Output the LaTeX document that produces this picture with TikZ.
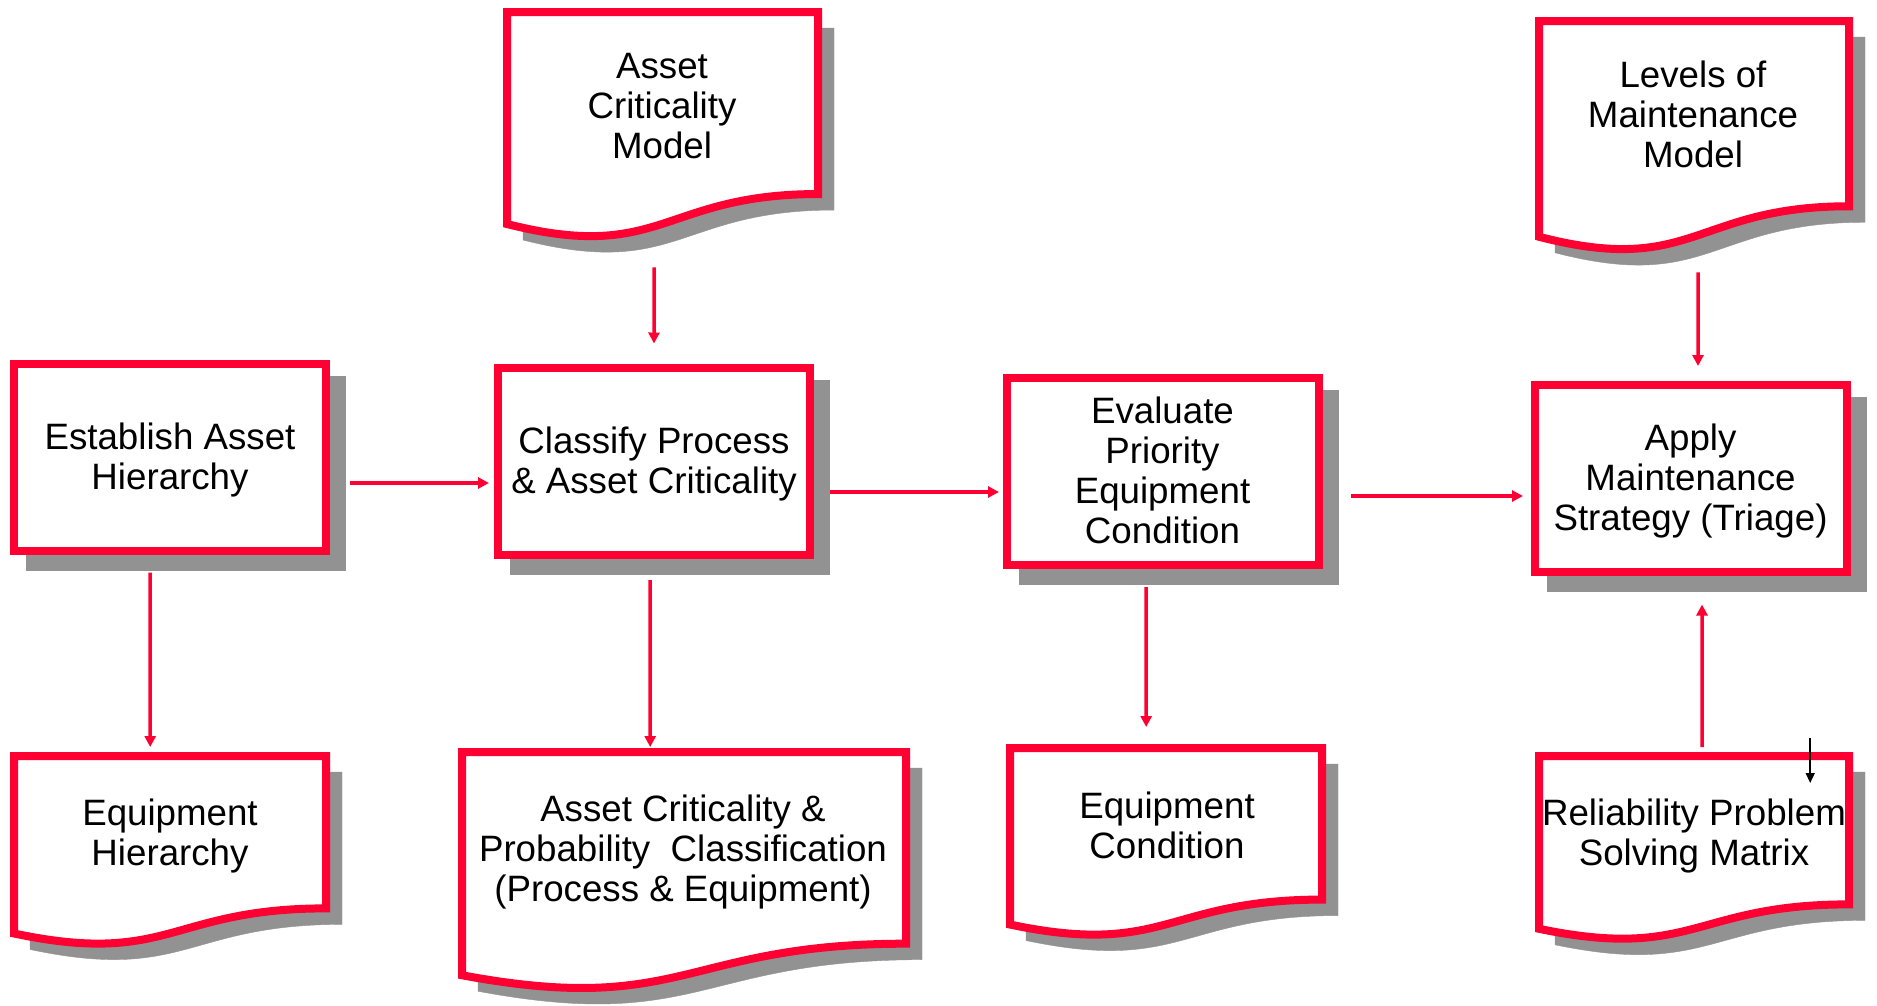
\documentclass[tikz,border=0pt]{standalone}
\usepackage{fontspec}
\setmainfont{Liberation Sans}
\usetikzlibrary{arrows.meta,shadows}

\definecolor{flowred}{RGB}{255,0,51}
\definecolor{shadowgray}{RGB}{146,146,146}

% strut giving every text line the same height (32pt) and depth (8pt)
\newcommand\tstrut{\rule[-8pt]{0pt}{40pt}}

\tikzset{
  dropshadow/.style={general shadow={draw=shadowgray, fill=shadowgray,
      shadow xshift=16pt, shadow yshift=-16pt}},
  labeltext/.style={align=center, inner sep=0pt,
      font=\fontsize{36.7}{40}\selectfont},
  stepbox/.style={labeltext, draw=flowred, line width=8pt, fill=white,
      minimum width=312pt, minimum height=187pt, dropshadow},
  docshape/.style={draw=flowred, line width=8pt, fill=white, dropshadow},
  flow/.style={draw=flowred, line width=3.5pt,
      -{Triangle[length=11pt,width=11pt]}},
  pointer/.style={draw=black, line width=1.5pt,
      -{Triangle[length=10pt,width=9pt]}},
}

% document symbol with a wavy foot: name, left, top, width, height
\newcommand\flowdoc[5]{%
  \path[docshape] (#2,#3) -- ({#2+#4},#3) -- ({#2+#4},{#3+0.802*#5})
    .. controls ({#2+0.5*#4},{#3+0.802*#5}) and ({#2+0.5*#4},{#3+1.1075*#5})
    .. (#2,{#3+0.934*#5}) -- cycle;
  \node[inner sep=0pt, minimum width=#4pt, minimum height=#5pt,
        anchor=north west] (#1) at (#2,#3) {};
}

\begin{document}
\begin{tikzpicture}[x=1pt, y=-1pt]
\useasboundingbox (0,0) rectangle (1877,1005);

% process steps
\node[stepbox] (est) at (170,457.5)
  {\tstrut Establish Asset\\\tstrut Hierarchy};
\node[stepbox] (cls) at (654,461.5)
  {\tstrut Classify Process\\\tstrut \& Asset Criticality};
\node[stepbox] (evl) at (1162.5,471)
  {\tstrut Evaluate\\\tstrut Priority\\\tstrut Equipment\\\tstrut Condition};
\node[stepbox] (apl) at (1690.5,478)
  {\tstrut Apply\\\tstrut Maintenance\\\tstrut Strategy (Triage)};

% documents
\flowdoc{acm}{507}{12}{311}{227}
\flowdoc{lev}{1539}{21}{310}{231}
\flowdoc{eqh}{14}{756}{312}{190}
\flowdoc{acp}{462}{752}{444}{239}
\flowdoc{eqc}{1010}{748}{312}{189}
\flowdoc{rel}{1539}{756}{310}{185}

\node[labeltext] (acm-t) at (662,106)
  {\tstrut Asset\\\tstrut Criticality\\\tstrut Model};
\node[labeltext] (lev-t) at (1693,115)
  {\tstrut Levels of\\\tstrut Maintenance\\\tstrut Model};
\node[labeltext] (eqh-t) at (170,833)
  {\tstrut Equipment\\\tstrut Hierarchy};
\node[labeltext] (acp-t) at (683,849)
  {\tstrut Asset Criticality \&\\\tstrut Probability~ Classification\\\tstrut (Process \& Equipment)};
\node[labeltext] (eqc-t) at (1167,826)
  {\tstrut Equipment\\\tstrut Condition};
\node[labeltext] (rel-t) at (1694,833.5)
  {\tstrut Reliability Problem\\\tstrut Solving Matrix};

% connectors
\draw[flow] ([xshift=-20pt,yshift=-17.5pt]est.south)
         -- ([xshift=-20pt,yshift=9pt]eqh.north);
\draw[flow] ([xshift=20pt,yshift=-25.5pt]est.east)
         -- ([xshift=-5pt,yshift=-21.5pt]cls.west);
\draw[flow] ([xshift=-8.5pt,yshift=-28pt]acm.south)
         -- ([yshift=20.5pt]cls.north);
\draw[flow] ([xshift=-4pt,yshift=-21pt]cls.south)
         -- ([xshift=-34pt,yshift=5pt]acp.north);
\draw[flow] ([xshift=16pt,yshift=-30.5pt]cls.east)
         -- ([xshift=-3.5pt,yshift=-21pt]evl.west);
\draw[flow] ([xshift=-16.5pt,yshift=-18.5pt]evl.south)
         -- ([xshift=-20pt,yshift=21pt]eqc.north);
\draw[flow] ([xshift=28.5pt,yshift=-25pt]evl.east)
         -- ([xshift=-7.5pt,yshift=-18pt]apl.west);
\draw[flow] ([xshift=4pt,yshift=-20pt]lev.south)
         -- ([xshift=7.5pt,yshift=14.5pt]apl.north);
\draw[flow] ([xshift=8pt,yshift=9pt]rel.north)
         -- ([xshift=11.5pt,yshift=-29pt]apl.south);
\draw[pointer] ([xshift=116pt,yshift=18pt]rel.north)
            -- ([xshift=116pt,yshift=-27pt]rel.north);
\end{tikzpicture}
\end{document}
